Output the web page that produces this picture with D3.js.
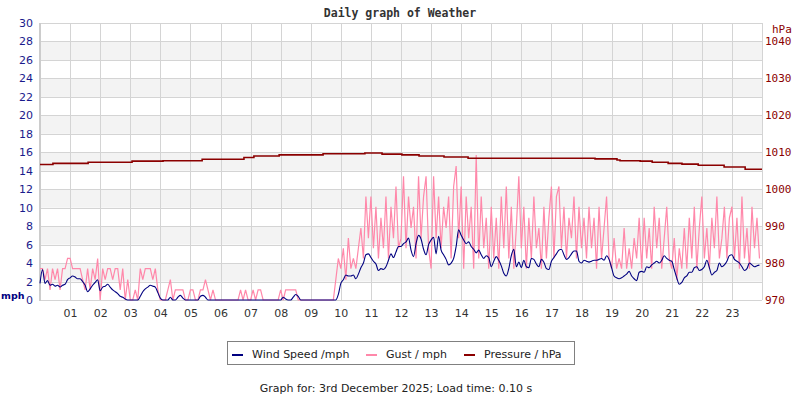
<!DOCTYPE html>
<html>
<head>
<meta charset="utf-8">
<script src="https://cdn.jsdelivr.net/npm/d3@7"></script>
<style>
  body { margin: 0; background: #fff; }
  svg { display: block; }
</style>
</head>
<body>
<div id="chart"></div>
<script>
// Wind speed, mph, one reading every 5 minutes from 00:00
var windSpeed = [
  1.8, 3.3, 1.8, 2.1, 1.6, 1.7, 1.5, 1.6, 1.4, 1.6, 1.7, 2.2,
  2.4, 2.6, 2.5, 2.3, 2.3, 2.0, 1.6, 0.9, 1.2, 1.6, 1.9, 2.2,
  1.0, 1.4, 1.5, 1.7, 1.4, 1.1, 0.9, 0.7, 0.4, 0.3, 0.1, 0,
  0, 0, 0, 0, 0.4, 0.9, 1.2, 1.4, 1.6, 1.5, 1.4, 0.8,
  0.2, 0, 0, 0, 0.3, 0, 0, 0.3, 0.5, 0.2, 0, 0,
  0, 0, 0, 0, 0.4, 0.5, 0.3, 0, 0, 0, 0, 0,
  0, 0, 0, 0, 0, 0, 0, 0, 0, 0, 0, 0,
  0, 0, 0, 0, 0, 0, 0, 0, 0, 0, 0, 0,
  0, 0.3, 0.1, 0, 0, 0.3, 0.6, 0.4, 0, 0, 0, 0,
  0, 0, 0, 0, 0, 0, 0, 0, 0, 0, 0, 0.6,
  1.8, 2.2, 2.7, 2.6, 2.6, 2.7, 2.3, 2.8, 3.5, 4.0, 4.9, 5.0,
  4.6, 4.2, 3.9, 3.2, 3.4, 3.3, 3.6, 4.3, 5.0, 4.6, 5.2, 5.8,
  5.8, 6.1, 6.3, 6.7, 5.4, 4.7, 6.1, 7.0, 6.6, 5.5, 4.9, 6.0,
  6.5, 6.8, 5.0, 6.9, 5.4, 4.9, 4.4, 3.8, 4.0, 4.5, 5.8, 7.6,
  7.0, 6.5, 6.1, 6.3, 5.8, 5.5, 5.1, 5.4, 4.9, 4.5, 4.8, 4.6,
  3.6, 4.2, 4.7, 4.3, 3.7, 2.9, 2.6, 3.4, 4.8, 5.5, 3.6, 4.1,
  3.5, 4.3, 3.6, 3.5, 4.5, 4.4, 3.9, 3.6, 4.4, 4.1, 3.4, 3.3,
  4.2, 4.6, 5.0, 5.4, 5.5, 4.9, 4.4, 4.6, 5.0, 5.3, 5.3, 4.2,
  4.0, 4.3, 4.2, 4.1, 4.2, 4.3, 4.3, 4.4, 4.5, 4.3, 4.8, 4.4,
  3.5, 2.6, 2.4, 2.3, 2.4, 2.6, 2.8, 3.1, 2.6, 2.3, 2.1, 3.0,
  3.1, 3.0, 3.6, 3.5, 3.8, 4.0, 4.2, 4.0, 4.3, 4.8, 4.5, 4.3,
  4.2, 3.3, 2.4, 1.7, 1.9, 2.4, 2.6, 3.0, 3.0, 3.5, 3.6, 3.2,
  3.3, 3.6, 4.3, 3.5, 2.7, 3.0, 3.2, 4.0, 3.6, 3.8, 4.2, 4.8,
  4.9, 4.4, 4.2, 4.0, 3.6, 3.2, 3.4, 4.0, 3.8, 3.6, 3.7, 3.8
];

// Gust, mph, same 5 minute readings
var gust = [
  3.4, 3.4, 2.2, 3.4, 1.1, 3.4, 2.2, 3.4, 1.1, 3.4, 3.4, 4.5,
  4.5, 3.4, 3.4, 3.4, 3.4, 2.2, 1.1, 3.4, 1.1, 3.4, 2.2, 4.5,
  0, 3.4, 2.2, 3.4, 3.4, 2.2, 3.4, 3.4, 1.1, 3.4, 0, 2.2,
  0, 0, 1.1, 0, 3.4, 2.2, 3.4, 3.4, 3.4, 2.2, 3.4, 1.1,
  0, 0, 0, 1.1, 2.2, 0, 1.1, 1.1, 1.1, 1.1, 0, 0,
  1.1, 1.1, 0, 0, 1.1, 1.1, 2.2, 1.1, 0, 1.1, 0, 0,
  0, 0, 0, 0, 0, 0, 0, 0, 1.1, 0, 1.1, 0,
  0, 1.1, 0, 1.1, 1.1, 0, 0, 0, 0, 0, 0, 0,
  1.1, 0, 1.1, 1.1, 1.1, 1.1, 1.1, 0, 0, 0, 0, 0,
  0, 0, 0, 0, 0, 0, 0, 0, 0, 0, 2.2, 4.5,
  3.4, 5.6, 2.2, 6.7, 3.4, 4.5, 3.4, 5.6, 7.8, 4.5, 11.2, 6.7,
  11.2, 5.6, 10.1, 4.5, 8.9, 5.6, 11.2, 4.5, 10.1, 6.7, 12.3, 5.6,
  6.7, 13.4, 5.6, 11.2, 7.8, 10.1, 4.5, 13.4, 6.7, 11.2, 13.4, 5.6,
  3.4, 13.4, 6.7, 11.2, 5.6, 10.1, 7.8, 11.2, 4.5, 12.3, 14.5, 6.7,
  12.3, 3.4, 11.2, 6.7, 10.1, 3.4, 15.7, 4.5, 11.2, 5.6, 8.9, 3.4,
  10.1, 4.5, 8.9, 3.4, 11.2, 5.6, 12.3, 4.5, 10.1, 3.4, 7.8, 13.4,
  5.6, 10.1, 3.4, 8.9, 4.5, 11.2, 5.6, 7.8, 3.4, 10.1, 4.5, 8.9,
  12.3, 4.5, 11.2, 12.3, 5.6, 10.1, 4.5, 8.9, 6.7, 11.2, 4.5, 10.1,
  5.6, 8.9, 4.5, 10.1, 5.6, 8.9, 3.4, 10.1, 4.5, 7.8, 11.2, 4.5,
  3.4, 6.7, 3.4, 4.5, 3.4, 7.8, 3.4, 5.6, 3.4, 6.7, 4.5, 8.9,
  3.4, 8.9, 4.5, 7.8, 3.4, 10.1, 5.6, 8.9, 3.4, 6.7, 10.1, 4.5,
  3.4, 6.7, 2.2, 5.6, 3.4, 7.8, 3.4, 8.9, 4.5, 10.1, 3.4, 7.8,
  11.2, 4.5, 7.8, 3.4, 8.9, 5.6, 11.2, 4.5, 6.7, 10.1, 4.5, 8.9,
  10.1, 4.5, 8.9, 3.4, 11.2, 4.5, 7.8, 3.4, 10.1, 5.6, 8.9, 4.5
];

// Pressure, hPa, held until the next change (times in hours)
var pressTimes  = [0, 0.43, 1.6, 3.06, 4.09, 5.39, 6.78, 7.11, 7.95, 9.41, 10.8, 11.37,
                   12.03, 12.6, 13.43, 14.23, 18.45, 19.18, 19.28, 19.95, 20.35, 20.88,
                   21.34, 21.88, 22.74, 23.44, 24];
var pressValues = [1006.7, 1007.0, 1007.3, 1007.6, 1007.7, 1008.1, 1008.6, 1009.0, 1009.3, 1009.6, 1009.8, 1009.5,
                   1009.3, 1009.0, 1008.7, 1008.4, 1008.2, 1007.9, 1007.7, 1007.6, 1007.3, 1007.0,
                   1006.8, 1006.5, 1006.0, 1005.4, 1005.4];

var hourTicks = d3.range(1, 24);
var mphTicks = d3.range(0, 31, 2);
var hpaTicks = d3.range(970, 1041, 10);

var legendItems = [
  { label: "Wind Speed /mph", color: "#000080", x: 232 },
  { label: "Gust / mph", color: "#ff88aa", x: 366 },
  { label: "Pressure / hPa", color: "#8b0000", x: 464 }
];

var width = 800, height = 400;
var plotLeft = 40, plotRight = 762, plotTop = 23, plotBottom = 300;

var svg = d3.select("#chart").append("svg")
    .attr("width", width)
    .attr("height", height);

var x = d3.scaleLinear().domain([0, 24]).range([plotLeft, plotRight]);
var y = d3.scaleLinear().domain([0, 30]).range([plotBottom, plotTop]);
var yP = d3.scaleLinear().domain([970, 1045]).range([plotBottom, plotTop]);

// shaded bands
svg.selectAll(".band")
    .data(d3.range(2, 30, 4))
    .enter().append("rect")
    .attr("x", plotLeft)
    .attr("width", plotRight - plotLeft)
    .attr("y", function(d) { return y(d + 2); })
    .attr("height", function(d) { return y(d) - y(d + 2); })
    .attr("fill", "#f3f3f3");

// grid
svg.selectAll(".hgrid")
    .data(mphTicks)
    .enter().append("line")
    .attr("x1", plotLeft).attr("x2", plotRight)
    .attr("y1", function(d) { return Math.round(y(d)) + 0.5; })
    .attr("y2", function(d) { return Math.round(y(d)) + 0.5; })
    .attr("stroke", "#d4d4d4");

svg.selectAll(".vgrid")
    .data(d3.range(1, 25))
    .enter().append("line")
    .attr("x1", function(d) { return Math.round(x(d)) + 0.5; })
    .attr("x2", function(d) { return Math.round(x(d)) + 0.5; })
    .attr("y1", plotTop).attr("y2", plotBottom)
    .attr("stroke", "#d4d4d4");

svg.append("line")
    .attr("x1", plotLeft).attr("x2", plotLeft)
    .attr("y1", plotTop).attr("y2", plotBottom + 1)
    .attr("stroke", "#cccccc")
    .attr("stroke-width", 2);

var fiveMin = function(d, i) { return x(i * 5 / 60); };

svg.append("path")
    .datum(gust)
    .attr("fill", "none")
    .attr("stroke", "#ff88aa")
    .attr("stroke-width", 1.2)
    .attr("d", d3.line().x(fiveMin).y(function(d) { return y(d); }));

svg.append("path")
    .datum(windSpeed)
    .attr("fill", "none")
    .attr("stroke", "#000080")
    .attr("stroke-width", 1.1)
    .attr("d", d3.line().x(fiveMin).y(function(d) { return y(d); }).curve(d3.curveMonotoneX));

svg.append("path")
    .datum(pressValues)
    .attr("fill", "none")
    .attr("stroke", "#8b0000")
    .attr("stroke-width", 1.6)
    .attr("d", d3.line()
        .x(function(d, i) { return x(pressTimes[i]); })
        .y(function(d) { return yP(d); })
        .curve(d3.curveStepAfter));

// axes
var yAxis = svg.append("g")
    .attr("transform", "translate(" + (plotLeft - 7) + ",0)")
    .call(d3.axisLeft(y).tickValues(mphTicks).tickSize(0).tickPadding(0));
yAxis.select(".domain").remove();
yAxis.selectAll("text")
    .attr("fill", "#1a1a8c")
    .style("font-family", "DejaVu Sans")
    .style("font-size", "11px");

var pAxis = svg.append("g")
    .attr("transform", "translate(" + (plotRight + 3) + ",0)")
    .call(d3.axisRight(yP).tickValues(hpaTicks).tickFormat(d3.format("d")).tickSize(0).tickPadding(0));
pAxis.select(".domain").remove();
pAxis.selectAll("text")
    .attr("fill", "#8b0000")
    .style("font-family", "DejaVu Sans Mono")
    .style("font-size", "11px");

var xAxis = svg.append("g")
    .attr("transform", "translate(0," + (plotBottom + 9) + ")")
    .call(d3.axisBottom(x).tickValues(hourTicks).tickFormat(d3.format("02d")).tickSize(0).tickPadding(0));
xAxis.select(".domain").remove();
xAxis.selectAll("text")
    .attr("fill", "#333")
    .style("font-family", "DejaVu Sans")
    .style("font-size", "11px");

svg.append("text")
    .attr("x", 1).attr("y", 299)
    .attr("fill", "#000080")
    .style("font-family", "DejaVu Sans")
    .style("font-size", "9.5px")
    .style("font-weight", "bold")
    .text("mph");

svg.append("text")
    .attr("x", 772).attr("y", 33)
    .attr("fill", "#8b0000")
    .style("font-family", "DejaVu Sans Mono")
    .style("font-size", "11px")
    .text("hPa");

svg.append("text")
    .attr("x", 400).attr("y", 17)
    .attr("text-anchor", "middle")
    .attr("fill", "#333")
    .style("font-family", "DejaVu Sans Mono")
    .style("font-size", "11.5px")
    .style("font-weight", "bold")
    .text("Daily graph of Weather");

// legend
svg.append("rect")
    .attr("x", 227.5).attr("y", 341.5)
    .attr("width", 347).attr("height", 23)
    .attr("fill", "#fff")
    .attr("stroke", "#808080");

var legend = svg.selectAll(".legend")
    .data(legendItems)
    .enter().append("g")
    .attr("class", "legend")
    .attr("transform", function(d) { return "translate(" + d.x + ",355)"; });

legend.append("line")
    .attr("x1", 0).attr("x2", 11)
    .attr("stroke", function(d) { return d.color; })
    .attr("stroke-width", 2);

legend.append("text")
    .attr("x", 20).attr("y", 3)
    .attr("fill", "#222")
    .style("font-family", "DejaVu Sans")
    .style("font-size", "11px")
    .text(function(d) { return d.label; });

svg.append("text")
    .attr("x", 396).attr("y", 392)
    .attr("text-anchor", "middle")
    .attr("fill", "#222")
    .style("font-family", "DejaVu Sans")
    .style("font-size", "11px")
    .text("Graph for: 3rd December 2025; Load time: 0.10 s");
</script>
</body>
</html>
